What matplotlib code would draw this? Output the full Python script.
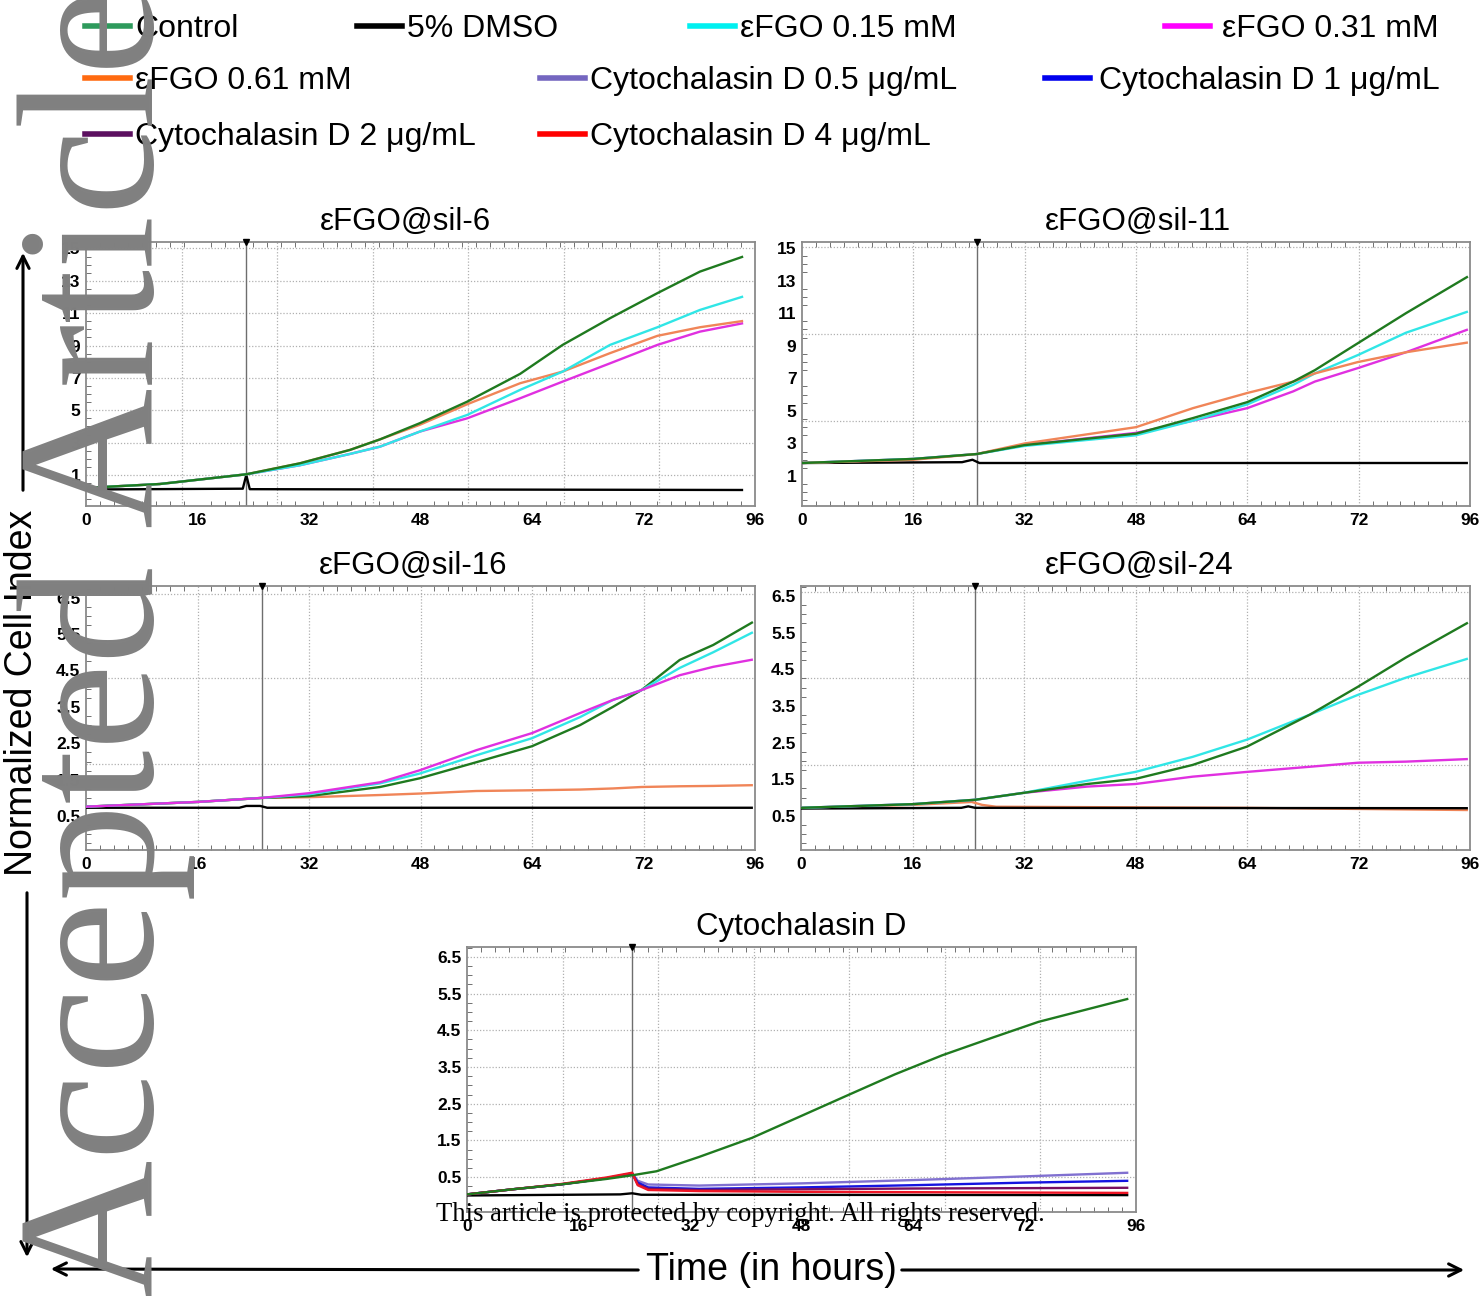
import matplotlib
matplotlib.use("Agg")
import matplotlib.pyplot as plt
from matplotlib.lines import Line2D
from matplotlib.patches import FancyArrowPatch
from matplotlib.ticker import MultipleLocator
import numpy as np

W, H, DPI = 1483, 1296, 100

# ---------------- data ----------------
series_names = ["Control", "5% DMSO", "εFGO 0.15 mM", "εFGO 0.31 mM", "εFGO 0.61 mM",
                "Cytochalasin D 0.5 μg/mL", "Cytochalasin D 1 μg/mL",
                "Cytochalasin D 2 μg/mL", "Cytochalasin D 4 μg/mL"]
x_tick_values = [0, 16, 32, 48, 64, 80, 96]
x_tick_labels = ["0", "16", "32", "48", "64", "72", "96"]

# εFGO@sil-6
sil6_t = [0, 10.6, 23, 30.7, 37.9, 42.2, 47.9, 54.7, 62.3, 68.4, 75.2, 82.0, 88.1, 94.3]
sil6_control = [0.2, 0.44, 1.04, 1.72, 2.55, 3.2, 4.2, 5.53, 7.25, 9.04, 10.69, 12.24, 13.57, 14.5]
sil6_c015 = [0.2, 0.44, 1.04, 1.6, 2.3, 2.75, 3.68, 4.71, 6.26, 7.39, 9.04, 10.13, 11.2, 12.03]
sil6_c031 = [0.2, 0.44, 1.04, 1.6, 2.3, 2.75, 3.68, 4.5, 5.74, 6.77, 7.9, 9.04, 9.86, 10.38]
sil6_c061 = [0.2, 0.44, 1.04, 1.72, 2.55, 3.2, 4.1, 5.37, 6.67, 7.39, 8.53, 9.6, 10.13, 10.52]
sil6_dmso_t = [0, 22.5, 23, 23.5, 94.3]
sil6_dmso = [0.1, 0.15, 1.0, 0.12, 0.07]

# εFGO@sil-11
sil11_t = [0, 16, 25.1, 32, 48, 56.2, 64, 70.6, 73.7, 79.9, 86.8, 95.7]
sil11_control = [1.8, 2.05, 2.35, 2.9, 3.6, 4.56, 5.54, 6.8, 7.5, 9.16, 11.0, 13.25]
sil11_c015 = [1.8, 2.05, 2.35, 2.85, 3.5, 4.4, 5.4, 6.6, 7.3, 8.43, 9.8, 11.1]
sil11_c031 = [1.8, 2.05, 2.35, 2.9, 3.65, 4.4, 5.17, 6.2, 6.8, 7.63, 8.6, 10.0]
sil11_c061 = [1.8, 2.0, 2.35, 3.0, 4.0, 5.17, 6.1, 6.8, 7.3, 8.0, 8.6, 9.2]
sil11_dmso_t = [0, 23, 24.5, 25.5, 95.7]
sil11_dmso = [1.8, 1.85, 2.0, 1.8, 1.8]

# εFGO@sil-16
sil16_t = [0, 16, 25.2, 32, 42.2, 47.9, 56, 64, 70.9, 75.6, 79.7, 85.2, 90, 95.7]
sil16_control = [0.76, 0.89, 1.0, 1.05, 1.3, 1.54, 1.98, 2.42, 3.0, 3.5, 3.96, 4.79, 5.2, 5.83]
sil16_c015 = [0.76, 0.89, 1.0, 1.1, 1.4, 1.67, 2.17, 2.64, 3.22, 3.69, 3.96, 4.57, 5.0, 5.55]
sil16_c031 = [0.76, 0.89, 1.0, 1.13, 1.43, 1.76, 2.31, 2.78, 3.33, 3.69, 3.96, 4.37, 4.6, 4.8]
sil16_c061 = [0.76, 0.89, 1.0, 1.02, 1.08, 1.12, 1.19, 1.21, 1.23, 1.26, 1.3, 1.32, 1.33, 1.35]
sil16_dmso_t = [0, 22, 23, 25, 26, 95.7]
sil16_dmso = [0.73, 0.73, 0.78, 0.78, 0.73, 0.73]

# εFGO@sil-24
sil24_t = [0, 16, 25, 32, 41.1, 48, 56.2, 64, 73, 79.9, 86.8, 95.7]
sil24_control = [0.72, 0.82, 0.94, 1.13, 1.37, 1.51, 1.89, 2.39, 3.26, 4.02, 4.82, 5.77]
sil24_c015 = [0.72, 0.82, 0.94, 1.13, 1.46, 1.7, 2.11, 2.58, 3.26, 3.8, 4.27, 4.79]
sil24_c031 = [0.72, 0.82, 0.94, 1.13, 1.3, 1.37, 1.57, 1.7, 1.84, 1.95, 1.98, 2.05]
sil24_c061_t = [0, 16, 24.5, 26, 28, 64, 95.7]
sil24_c061 = [0.72, 0.8, 0.88, 0.8, 0.75, 0.72, 0.66]
sil24_dmso_t = [0, 23, 24, 25, 95.7]
sil24_dmso = [0.7, 0.72, 0.76, 0.72, 0.71]

# Cytochalasin D
cyto_ctrl_t = [0, 6.6, 13.4, 20, 23.7, 27.2, 33.3, 40.9, 48, 54.5, 61.4, 68.2, 75.4, 82, 94.9]
cyto_control = [0.03, 0.17, 0.3, 0.45, 0.55, 0.66, 1.05, 1.57, 2.17, 2.72, 3.3, 3.82, 4.3, 4.73, 5.36]
cyto_t = [0, 6.6, 13.4, 20, 23.7, 24.5, 26, 33.3, 48, 64, 80, 94.9]
cyto_cd05 = [0.03, 0.17, 0.3, 0.47, 0.6, 0.4, 0.3, 0.27, 0.33, 0.42, 0.52, 0.62]
cyto_cd1 = [0.03, 0.17, 0.3, 0.47, 0.6, 0.35, 0.22, 0.18, 0.22, 0.28, 0.35, 0.4]
cyto_cd2 = [0.03, 0.17, 0.3, 0.47, 0.6, 0.3, 0.18, 0.15, 0.17, 0.19, 0.2, 0.21]
cyto_cd4 = [0.03, 0.17, 0.31, 0.49, 0.62, 0.28, 0.15, 0.12, 0.1, 0.09, 0.08, 0.07]
cyto_dmso_t = [0, 22, 23.7, 25, 94.9]
cyto_dmso = [0.0, 0.03, 0.06, 0.02, 0.01]

# ---------------- styles ----------------
legend_colors = ["#2e9a5c", "#000000", "#00f0f0", "#ff00ff", "#ff6a10",
                 "#7466c0", "#0000ee", "#5c1060", "#ff0000"]
C_GREEN, C_BLACK, C_CYAN, C_MAG, C_ORANGE = "#1f7a1f", "#000000", "#30e6e6", "#e030e0", "#f08558"
C_SLATE, C_BLUE, C_PURPLE, C_RED = "#8070d0", "#1515e0", "#7a1060", "#ee1525"

SANS = ["Liberation Sans", "DejaVu Sans"]
SERIF = ["Liberation Serif", "DejaVu Serif"]

fig = plt.figure(figsize=(W / DPI, H / DPI), dpi=DPI)
fig.patch.set_facecolor("white")


def rect(l, t, r, b):
    return [l / W, 1 - b / H, (r - l) / W, (b - t) / H]


panels = [
    dict(title="εFGO@sil-6", title_x=0.478, rect=rect(86, 242, 755, 506), ylim=(-0.92, 15.4),
         yticks=[1, 3, 5, 7, 9, 11, 13, 15], ygrid=[1, 3, 5, 7, 9, 11, 13, 15],
         xgrid=list(np.arange(1, 7) * 96 / 7), yminor=0.5, vline=23,
         series=[(sil6_dmso_t, sil6_dmso, C_BLACK), (sil6_t, sil6_c031, C_MAG),
                 (sil6_t, sil6_c061, C_ORANGE), (sil6_t, sil6_c015, C_CYAN),
                 (sil6_t, sil6_control, C_GREEN)]),
    dict(title="εFGO@sil-11", title_x=0.503, rect=rect(802, 242, 1470, 506), ylim=(-0.84, 15.37),
         yticks=[1, 3, 5, 7, 9, 11, 13, 15], ygrid=[15.05, 9.72, 4.38],
         xgrid=[16, 32, 48, 64, 80], yminor=0.5, vline=25.1,
         series=[(sil11_dmso_t, sil11_dmso, C_BLACK), (sil11_t, sil11_c031, C_MAG),
                 (sil11_t, sil11_c015, C_CYAN), (sil11_t, sil11_c061, C_ORANGE),
                 (sil11_t, sil11_control, C_GREEN)]),
    dict(title="εFGO@sil-16", title_x=0.489, rect=rect(86, 586, 755, 850), ylim=(-0.43, 6.82),
         yticks=[0.5, 1.5, 2.5, 3.5, 4.5, 5.5, 6.5], ygrid=[6.6, 4.29, 1.93],
         xgrid=[16, 32, 48, 64, 80], yminor=0.25, vline=25.2,
         series=[(sil16_dmso_t, sil16_dmso, C_BLACK), (sil16_t, sil16_c061, C_ORANGE),
                 (sil16_t, sil16_control, C_GREEN), (sil16_t, sil16_c015, C_CYAN),
                 (sil16_t, sil16_c031, C_MAG)]),
    dict(title="εFGO@sil-24", title_x=0.506, rect=rect(801, 586, 1470, 850), ylim=(-0.43, 6.77),
         yticks=[0.5, 1.5, 2.5, 3.5, 4.5, 5.5, 6.5], ygrid=[6.6, 4.26, 1.9],
         xgrid=[16, 32, 48, 64, 80], yminor=0.25, vline=25.0,
         series=[(sil24_c061_t, sil24_c061, C_ORANGE), (sil24_dmso_t, sil24_dmso, C_BLACK),
                 (sil24_t, sil24_c031, C_MAG), (sil24_t, sil24_c015, C_CYAN),
                 (sil24_t, sil24_control, C_GREEN)]),
    dict(title="Cytochalasin D", title_x=0.5, rect=rect(467, 947, 1136, 1212), ylim=(-0.45, 6.77),
         yticks=[0.5, 1.5, 2.5, 3.5, 4.5, 5.5, 6.5],
         ygrid=[0.5, 1.5, 2.5, 3.5, 4.5, 5.5, 6.5],
         xgrid=list(np.arange(1, 7) * 96 / 7), yminor=0.25, vline=23.7,
         series=[(cyto_dmso_t, cyto_dmso, C_BLACK), (cyto_t, cyto_cd05, C_SLATE),
                 (cyto_t, cyto_cd1, C_BLUE), (cyto_t, cyto_cd2, C_PURPLE),
                 (cyto_t, cyto_cd4, C_RED), (cyto_ctrl_t, cyto_control, C_GREEN)]),
]

for p in panels:
    ax = fig.add_axes(p["rect"])
    ax.set_xlim(0, 96)
    ax.set_ylim(*p["ylim"])
    for g in p["ygrid"]:
        ax.axhline(g, color="#b0b0b0", lw=0.9, ls=(0, (1, 1.5)), zorder=0.5)
    for g in p["xgrid"]:
        ax.axvline(g, color="#b0b0b0", lw=0.9, ls=(0, (1, 1.5)), zorder=0.5)
    ax.axvline(p["vline"], color="#6e6e6e", lw=1.0, zorder=1)
    ax.plot([p["vline"]], [p["ylim"][1]], marker="v", color="black", ms=4, clip_on=False, zorder=5)
    for t, v, c in p["series"]:
        ax.plot(t, v, color=c, lw=1.7, zorder=3, solid_capstyle="butt")
    ax.set_xticks(x_tick_values)
    ax.set_xticklabels(x_tick_labels)
    ax.set_yticks(p["yticks"])
    ax.set_yticklabels([("%g" % y) for y in p["yticks"]])
    ax.xaxis.set_minor_locator(MultipleLocator(2))
    ax.yaxis.set_minor_locator(MultipleLocator(p["yminor"]))
    ax.tick_params(which="major", length=0, labelsize=12.5)
    ax.tick_params(axis="x", which="major", pad=5)
    ax.tick_params(axis="y", which="major", pad=4)
    ax.tick_params(which="minor", direction="in", length=3.5, width=0.7, color="#707070",
                   top=True, bottom=True, left=True, right=False)
    for lab in ax.get_xticklabels() + ax.get_yticklabels():
        lab.set_fontfamily(SANS)
        lab.set_fontweight("bold")
    for s in ax.spines.values():
        s.set_color("#8a8a8a")
        s.set_linewidth(1.3)
    ax.set_title(p["title"], x=p["title_x"], fontsize=22.5, family=SANS, pad=9)

# ---------------- legend ----------------
legend_layout = [  # (handle left px, row center px, text gap)
    (85, 29, 0.17), (357, 29, 0.17), (690, 29, 0.17), (1165, 29, 0.4),
    (85, 81, 0.17), (540, 81, 0.17), (1045, 81, 0.3),
    (85, 137, 0.17), (540, 137, 0.17),
]
for name, col, (lx, ly, gap) in zip(series_names, legend_colors, legend_layout):
    fig.legend(handles=[Line2D([], [], color=col, lw=4)], labels=[name],
               loc="center left", bbox_to_anchor=(lx / W, 1 - ly / H),
               frameon=False, handlelength=1.4, handletextpad=gap,
               borderpad=0, borderaxespad=0, prop=dict(family=SANS, size=23))

# ---------------- axis titles with arrows ----------------
fig.text(22 / W, 1 - 693 / H, "Normalized Cell Index", rotation=90, ha="center", va="center",
         fontsize=27, family=SANS)
arrow = dict(arrowstyle="->", color="black", lw=2.2, mutation_scale=22)
fig.add_artist(FancyArrowPatch((23 / W, 1 - 493 / H), (23 / W, 1 - 250 / H),
                               transform=fig.transFigure, **arrow))
fig.add_artist(FancyArrowPatch((27 / W, 1 - 890 / H), (27 / W, 1 - 1260 / H),
                               transform=fig.transFigure, **arrow))
fig.text(771 / W, 1 - 1270 / H, "Time (in hours)", ha="center", va="center", fontsize=27, family=SANS)
fig.add_artist(FancyArrowPatch((641 / W, 1 - 1270 / H), (48 / W, 1 - 1269 / H),
                               transform=fig.transFigure, **arrow))
fig.add_artist(FancyArrowPatch((899 / W, 1 - 1270 / H), (1467 / W, 1 - 1270 / H),
                               transform=fig.transFigure, **arrow))

# ---------------- watermark / notice ----------------
fig.text(436 / W, 1 - 1221 / H, "This article is protected by copyright. All rights reserved.",
         ha="left", va="baseline", fontsize=19.2, family=SERIF, color="black", zorder=12)
fig.text(153 / W, 1 - 1300 / H, "Accepted Article", rotation=90, rotation_mode="anchor",
         ha="left", va="baseline", fontsize=140, family=SERIF, color="#808080", zorder=20)

fig.savefig("out.png", dpi=DPI, facecolor="white")
